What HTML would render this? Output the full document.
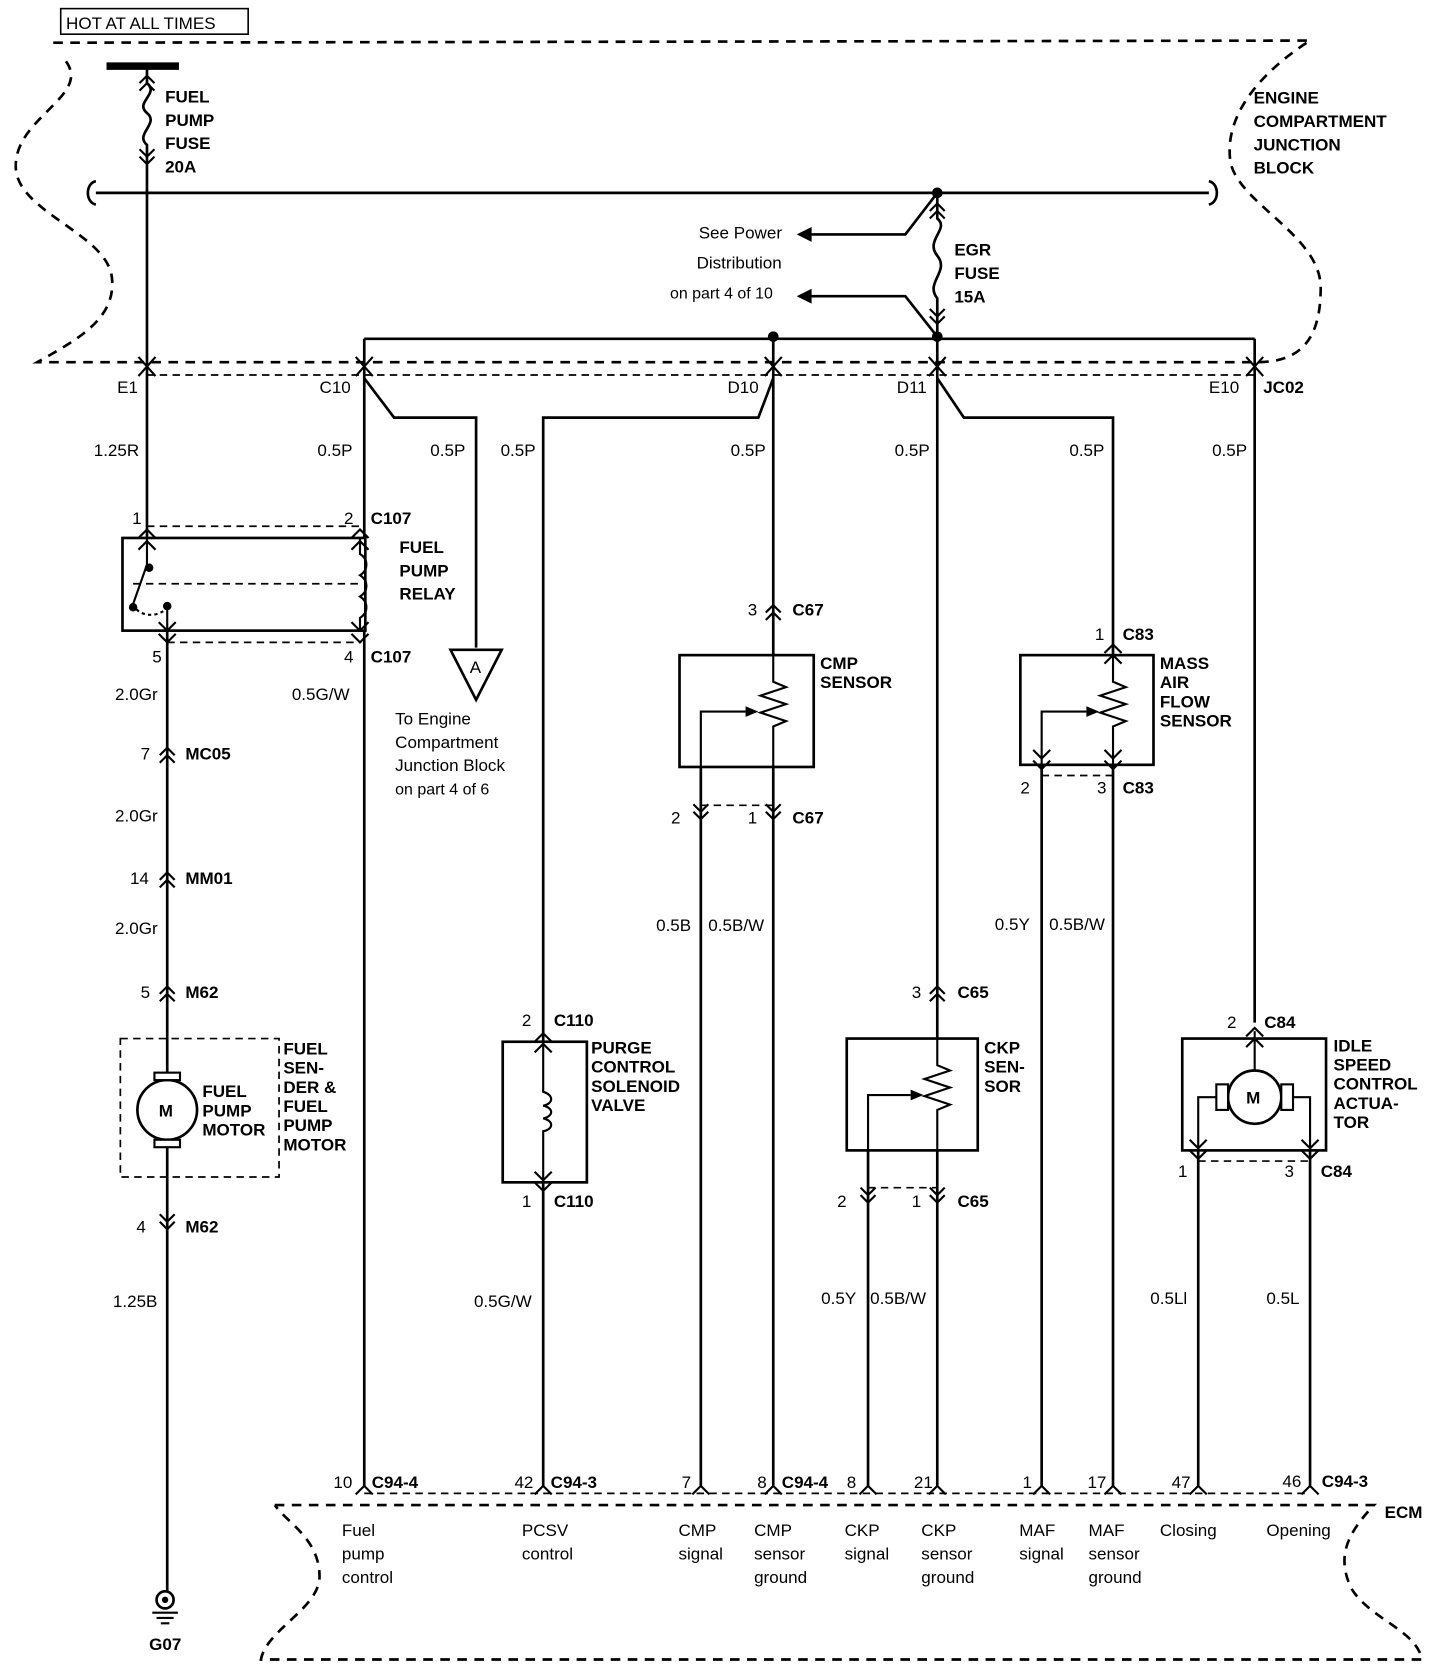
<!DOCTYPE html>
<html><head><meta charset="utf-8"><style>
html,body{margin:0;padding:0;background:#fff;}
svg{display:block;}
text{font-family:"Liberation Sans",Arial,sans-serif;font-size:16px;fill:#000;}
.b{font-weight:bold;}
</style></head><body>
<svg width="1440" height="1666" viewBox="0 0 1352 1564" xmlns="http://www.w3.org/2000/svg">
<defs>
<g id="x" fill="none" stroke="#000" stroke-width="2"><path d="M-8,-9 L0,0 L8,-9 M-8,9 L0,0 L8,9"/></g>
<g id="u2" fill="none" stroke="#000" stroke-width="2"><path d="M-7,3 L0,-4 L7,3 M-7,10 L0,3 L7,10"/></g>
<g id="d2" fill="none" stroke="#000" stroke-width="2"><path d="M-7,-3 L0,4 L7,-3 M-7,-10 L0,-3 L7,-10"/></g>
<g id="up" fill="none" stroke="#000" stroke-width="2"><path d="M-8,8 L0,0 L8,8"/></g>
<g id="dn" fill="none" stroke="#000" stroke-width="2"><path d="M-8,-8 L0,0 L8,-8"/></g>
</defs>
<g fill="none" stroke="#000" stroke-width="2.5" stroke-dasharray="9,7">
<path d="M50,40 L1230,38 C1180,70 1150,110 1155,150 C1160,190 1240,220 1240,270 C1240,320 1220,340 1180,340 L35,340 C70,320 110,300 105,260 C100,220 20,200 15,160 C10,110 90,90 60,55"/>
<path d="M258,1413 L1290,1413 C1265,1440 1255,1460 1268,1490 C1285,1520 1330,1530 1335,1558 L245,1558 C250,1530 300,1510 300,1480 C300,1445 270,1430 258,1413"/>
</g>
<g fill="none" stroke="#000" stroke-width="1.6" stroke-dasharray="7,5">
<path d="M138,352 L1178,352"/>
<path d="M138,494 L338,494 M157,603 L338,603"/>
<path d="M658,756 L726,756 M978,728 L1045,728 M815,1115 L880,1115 M1125,1090 L1230,1090"/>
<path d="M342,1402 L1230,1402"/>
<path d="M125,548 L338,548"/>
<rect x="113" y="975" width="149" height="130"/>
</g>
<rect x="57" y="8" width="176" height="24" fill="none" stroke="#000" stroke-width="1.5"/>
<text x="62" y="27">HOT AT ALL TIMES</text>
<g fill="none" stroke="#000" stroke-width="2.5">
<path d="M100,62 L168,62" stroke-width="7"/>
<path d="M138,62 L138,78 C150,88 126,96 138,106 C150,116 126,126 138,136 L138,505"/>
<path d="M90,181 L1135,181"/>
<path d="M90,170 C80,172 80,190 90,192 M1135,170 C1145,172 1145,190 1135,192"/>
<path d="M880,181 L880,205 C892,215 868,225 880,240 C892,255 868,265 880,280 L880,316"/>
<path d="M880,181 L850,220 L760,220 M880,316 L850,278 L760,278"/>
<path d="M342,318 L1178,318"/>
<path d="M342,318 L342,1395 M726,318 L726,1395 M880,318 L880,1395 M1178,318 L1178,960"/>
<path d="M342,355 L370,392 L447,392 L447,608"/>
<path d="M726,355 L712,392 L510,392 L510,1395"/>
<path d="M880,355 L905,392 L1045,392 L1045,1395"/>
<path d="M157,592 L157,1494"/>
<path d="M658,700 L658,1395 M978,665 L978,1395 M815,1030 L815,1395 M1125,1030 L1125,1395 M1230,1030 L1230,1395"/>
</g>
<path d="M748,220 L762,213 L762,227Z M748,278 L762,271 L762,285Z" fill="#000"/>
<circle cx="880" cy="181" r="5"/><circle cx="880" cy="316" r="5"/><circle cx="726" cy="316" r="5"/>
<rect x="115" y="505" width="228" height="87" fill="#fff" stroke="#000" stroke-width="2.5"/>
<g fill="none" stroke="#000" stroke-width="1.6" stroke-dasharray="7,5"><path d="M125,548 L338,548"/></g>
<g fill="none" stroke="#000" stroke-width="2">
<path d="M138,505 L138,530 L125,567 M157,592 L157,570"/>
<path d="M338,505 L338,520 C346,525 346,535 338,540 C346,545 346,555 338,560 C346,565 346,575 338,580 L338,592"/>
<path d="M125,567 C130,580 150,580 157,570" stroke-dasharray="3,3"/>
</g>
<circle cx="140" cy="533" r="4"/><circle cx="125" cy="570" r="4"/><circle cx="157" cy="569" r="4"/>
<use href="#up" x="138" y="497"/><use href="#up" x="138" y="508"/><use href="#up" x="338" y="497"/><use href="#up" x="338" y="508"/>
<use href="#dn" x="157" y="592"/><use href="#dn" x="157" y="603"/><use href="#dn" x="338" y="592"/><use href="#dn" x="338" y="603"/>
<path d="M423,610 L471,610 L447,657Z" fill="#fff" stroke="#000" stroke-width="2.5"/>
<text x="441" y="632">A</text>
<circle cx="157" cy="1042" r="28" fill="#fff" stroke="#000" stroke-width="2.5"/>
<rect x="145" y="1007" width="24" height="7" fill="#fff" stroke="#000" stroke-width="2"/>
<rect x="145" y="1070" width="24" height="7" fill="#fff" stroke="#000" stroke-width="2"/>
<text x="149" y="1048" class="b">M</text>
<circle cx="155" cy="1502" r="8" fill="#fff" stroke="#000" stroke-width="2.5"/><circle cx="155" cy="1502" r="3"/>
<path d="M143,1514 L167,1514 M147,1519 L163,1519 M151,1524 L159,1524" stroke="#000" stroke-width="2"/>
<rect x="472" y="978" width="79" height="132" fill="#fff" stroke="#000" stroke-width="2.5"/>
<path d="M510,970 L510,1025 C520,1028 520,1036 510,1038 C520,1040 520,1048 510,1050 C520,1052 520,1060 510,1062 L510,1118" fill="none" stroke="#000" stroke-width="2"/>
<rect x="638" y="615" width="126" height="105" fill="#fff" stroke="#000" stroke-width="2.5"/>
<path d="M726,605 L726,640 L738,645 L714,653 L738,661 L714,669 L738,677 L726,682 L726,765 M658,765 L658,668 L700,668" fill="none" stroke="#000" stroke-width="2"/>
<path d="M712,668 L700,663 L700,673Z"/>
<rect x="958" y="615" width="125" height="103" fill="#fff" stroke="#000" stroke-width="2.5"/>
<path d="M1045,605 L1045,640 L1057,645 L1033,653 L1057,661 L1033,669 L1057,677 L1045,682 L1045,718 M978,718 L978,668 L1020,668" fill="none" stroke="#000" stroke-width="2"/>
<path d="M1032,668 L1020,663 L1020,673Z"/>
<rect x="795" y="975" width="123" height="105" fill="#fff" stroke="#000" stroke-width="2.5"/>
<path d="M880,965 L880,1000 L892,1005 L868,1013 L892,1021 L868,1029 L892,1037 L880,1042 L880,1125 M815,1125 L815,1028 L855,1028" fill="none" stroke="#000" stroke-width="2"/>
<path d="M867,1028 L855,1023 L855,1033Z"/>
<rect x="1110" y="975" width="135" height="105" fill="#fff" stroke="#000" stroke-width="2.5"/>
<circle cx="1178" cy="1030" r="25" fill="#fff" stroke="#000" stroke-width="2.5"/>
<rect x="1142" y="1018" width="11" height="24" fill="#fff" stroke="#000" stroke-width="2"/>
<rect x="1203" y="1018" width="11" height="24" fill="#fff" stroke="#000" stroke-width="2"/>
<path d="M1178,968 L1178,1005 M1142,1030 L1125,1030 L1125,1080 M1214,1030 L1230,1030 L1230,1080" fill="none" stroke="#000" stroke-width="2"/>
<text x="1170" y="1036" class="b">M</text>
<use href="#x" x="138" y="344"/><use href="#x" x="342" y="344"/><use href="#x" x="726" y="344"/><use href="#x" x="880" y="344"/><use href="#x" x="1178" y="344"/>
<use href="#u2" x="880" y="195"/><use href="#d2" x="880" y="300"/>
<use href="#u2" x="138" y="75"/><use href="#d2" x="138" y="150"/>
<use href="#u2" x="157" y="706"/><use href="#u2" x="157" y="823"/><use href="#u2" x="157" y="930"/><use href="#d2" x="157" y="1150"/>
<use href="#u2" x="726" y="572"/><use href="#u2" x="880" y="930"/>
<use href="#up" x="510" y="970"/><use href="#up" x="510" y="980"/><use href="#dn" x="510" y="1108"/><use href="#dn" x="510" y="1118"/>
<use href="#d2" x="658" y="765"/><use href="#d2" x="726" y="765"/>
<use href="#up" x="1045" y="605"/><use href="#up" x="1045" y="615"/><use href="#dn" x="978" y="712"/><use href="#dn" x="978" y="722"/><use href="#dn" x="1045" y="712"/><use href="#dn" x="1045" y="722"/>
<use href="#d2" x="815" y="1125"/><use href="#d2" x="880" y="1125"/>
<use href="#up" x="1178" y="965"/><use href="#up" x="1178" y="975"/><use href="#dn" x="1125" y="1078"/><use href="#dn" x="1125" y="1088"/><use href="#dn" x="1230" y="1078"/><use href="#dn" x="1230" y="1088"/>
<g><use href="#up" x="342" y="1395"/><use href="#up" x="510" y="1395"/><use href="#up" x="658" y="1395"/><use href="#up" x="726" y="1395"/><use href="#up" x="815" y="1395"/><use href="#up" x="880" y="1395"/><use href="#up" x="978" y="1395"/><use href="#up" x="1045" y="1395"/><use href="#up" x="1125" y="1395"/><use href="#up" x="1230" y="1395"/></g>
<g class="b">
<text x="155" y="96" class="b">FUEL</text><text x="155" y="118" class="b">PUMP</text><text x="155" y="140" class="b">FUSE</text><text x="155" y="162" class="b">20A</text>
<text x="1177" y="97" class="b">ENGINE</text><text x="1177" y="119" class="b">COMPARTMENT</text><text x="1177" y="141" class="b">JUNCTION</text><text x="1177" y="163" class="b">BLOCK</text>
<text x="896" y="240" class="b">EGR</text><text x="896" y="262" class="b">FUSE</text><text x="896" y="284" class="b">15A</text>
<text x="1186" y="369" class="b">JC02</text>
<text x="348" y="492" class="b">C107</text><text x="348" y="622" class="b">C107</text>
<text x="375" y="519" class="b">FUEL</text><text x="375" y="541" class="b">PUMP</text><text x="375" y="563" class="b">RELAY</text>
<text x="174" y="713" class="b">MC05</text><text x="174" y="830" class="b">MM01</text><text x="174" y="937" class="b">M62</text><text x="174" y="1157" class="b">M62</text>
<text x="190" y="1030" class="b">FUEL</text><text x="190" y="1048" class="b">PUMP</text><text x="190" y="1066" class="b">MOTOR</text>
<text x="266" y="990" class="b">FUEL</text><text x="266" y="1008" class="b">SEN-</text><text x="266" y="1026" class="b">DER &amp;</text><text x="266" y="1044" class="b">FUEL</text><text x="266" y="1062" class="b">PUMP</text><text x="266" y="1080" class="b">MOTOR</text>
<text x="744" y="578" class="b">C67</text><text x="744" y="773" class="b">C67</text>
<text x="770" y="628" class="b">CMP</text><text x="770" y="646" class="b">SENSOR</text>
<text x="1054" y="601" class="b">C83</text><text x="1054" y="745" class="b">C83</text>
<text x="1089" y="628" class="b">MASS</text><text x="1089" y="646" class="b">AIR</text><text x="1089" y="664" class="b">FLOW</text><text x="1089" y="682" class="b">SENSOR</text>
<text x="520" y="963" class="b">C110</text><text x="520" y="1133" class="b">C110</text>
<text x="555" y="989" class="b">PURGE</text><text x="555" y="1007" class="b">CONTROL</text><text x="555" y="1025" class="b">SOLENOID</text><text x="555" y="1043" class="b">VALVE</text>
<text x="899" y="937" class="b">C65</text><text x="899" y="1133" class="b">C65</text>
<text x="924" y="989" class="b">CKP</text><text x="924" y="1007" class="b">SEN-</text><text x="924" y="1025" class="b">SOR</text>
<text x="1187" y="965" class="b">C84</text><text x="1240" y="1105" class="b">C84</text>
<text x="1252" y="987" class="b">IDLE</text><text x="1252" y="1005" class="b">SPEED</text><text x="1252" y="1023" class="b">CONTROL</text><text x="1252" y="1041" class="b">ACTUA-</text><text x="1252" y="1059" class="b">TOR</text>
<text x="349" y="1397" class="b">C94-4</text><text x="517" y="1397" class="b">C94-3</text><text x="734" y="1397" class="b">C94-4</text><text x="1241" y="1396" class="b">C94-3</text>
<text x="1300" y="1425" class="b">ECM</text>
<text x="140" y="1549" class="b">G07</text>
</g>
<text x="656" y="224">See Power</text><text x="654" y="252">Distribution</text><text x="629" y="280" style="font-size:15px">on part 4 of 10</text>
<text x="110" y="369">E1</text><text x="300" y="369">C10</text><text x="683" y="369">D10</text><text x="842" y="369">D11</text><text x="1135" y="369">E10</text>
<text x="88" y="428">1.25R</text><text x="298" y="428">0.5P</text><text x="404" y="428">0.5P</text><text x="470" y="428">0.5P</text><text x="686" y="428">0.5P</text><text x="840" y="428">0.5P</text><text x="1004" y="428">0.5P</text><text x="1138" y="428">0.5P</text>
<text x="124" y="492">1</text><text x="323" y="492">2</text><text x="143" y="622">5</text><text x="323" y="622">4</text>
<text x="108" y="657">2.0Gr</text><text x="274" y="657">0.5G/W</text>
<text x="132" y="713">7</text><text x="108" y="771">2.0Gr</text><text x="122" y="830">14</text><text x="108" y="877">2.0Gr</text><text x="132" y="937">5</text><text x="128" y="1157">4</text><text x="106" y="1227">1.25B</text>
<text x="371" y="680">To Engine</text><text x="371" y="702">Compartment</text><text x="371" y="724">Junction Block</text><text x="371" y="746" style="font-size:15px">on part 4 of 6</text>
<text x="702" y="578">3</text><text x="630" y="773">2</text><text x="702" y="773">1</text>
<text x="1028" y="601">1</text><text x="958" y="745">2</text><text x="1030" y="745">3</text>
<text x="616" y="874">0.5B</text><text x="665" y="874">0.5B/W</text>
<text x="934" y="873">0.5Y</text><text x="985" y="873">0.5B/W</text>
<text x="490" y="963">2</text><text x="490" y="1133">1</text><text x="445" y="1227">0.5G/W</text>
<text x="856" y="937">3</text><text x="786" y="1133">2</text><text x="856" y="1133">1</text>
<text x="771" y="1224">0.5Y</text><text x="817" y="1224">0.5B/W</text>
<text x="1152" y="965">2</text><text x="1106" y="1105">1</text><text x="1206" y="1105">3</text>
<text x="1080" y="1224">0.5Ll</text><text x="1189" y="1224">0.5L</text>
<text x="313" y="1397">10</text><text x="483" y="1397">42</text><text x="640" y="1397">7</text><text x="711" y="1397">8</text><text x="795" y="1397">8</text><text x="858" y="1397">21</text><text x="960" y="1397">1</text><text x="1021" y="1397">17</text><text x="1100" y="1397">47</text><text x="1204" y="1396">46</text>
<text x="321" y="1442">Fuel</text><text x="321" y="1464">pump</text><text x="321" y="1486">control</text>
<text x="490" y="1442">PCSV</text><text x="490" y="1464">control</text>
<text x="637" y="1442">CMP</text><text x="637" y="1464">signal</text>
<text x="708" y="1442">CMP</text><text x="708" y="1464">sensor</text><text x="708" y="1486">ground</text>
<text x="793" y="1442">CKP</text><text x="793" y="1464">signal</text>
<text x="865" y="1442">CKP</text><text x="865" y="1464">sensor</text><text x="865" y="1486">ground</text>
<text x="957" y="1442">MAF</text><text x="957" y="1464">signal</text>
<text x="1022" y="1442">MAF</text><text x="1022" y="1464">sensor</text><text x="1022" y="1486">ground</text>
<text x="1089" y="1442">Closing</text><text x="1189" y="1442">Opening</text>
</svg>
</body></html>
